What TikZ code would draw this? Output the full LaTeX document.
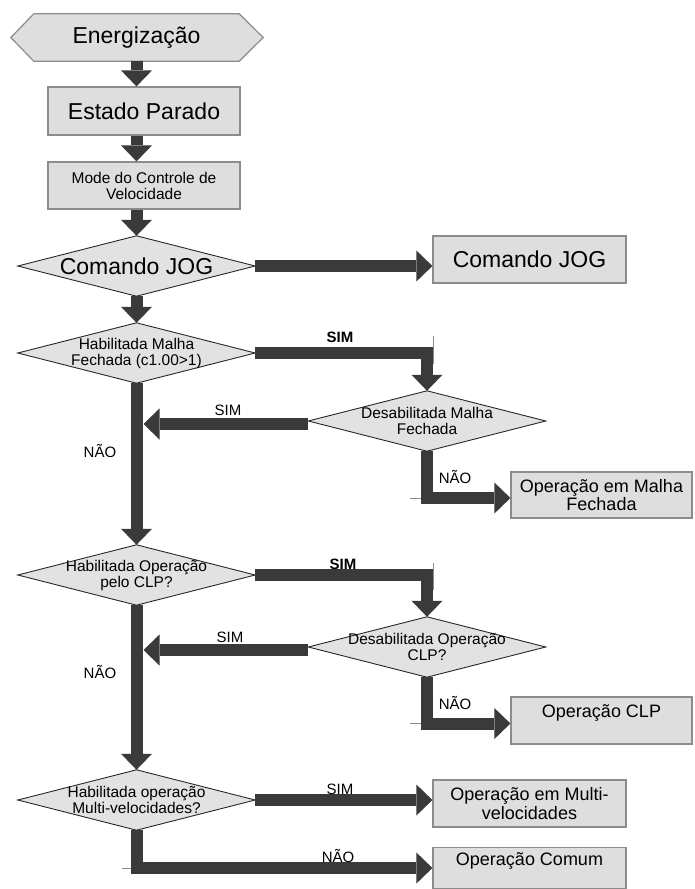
\documentclass[tikz,border=0pt]{standalone}
\usepackage{fontspec}
\setmainfont{Liberation Sans}
\usetikzlibrary{arrows.meta,calc}
\pgfdeclarelayer{background}
\pgfsetlayers{background,main}
\definecolor{arrowc}{RGB}{58,58,58}
\definecolor{boxfill}{RGB}{222,222,222}
\definecolor{boxline}{RGB}{140,140,140}
\definecolor{diafill}{RGB}{226,226,226}
\definecolor{dialine}{RGB}{40,40,40}
\newcommand{\myBig}{\fontsize{23}{26}\selectfont}
\newcommand{\myMed}{\fontsize{18}{18.5}\selectfont}
\newcommand{\mySmall}{\fontsize{15.5}{16}\selectfont}
\newcommand{\myLbl}{\fontsize{15}{17}\selectfont}
\tikzset{
  box/.style={draw=boxline, fill=boxfill, line width=1.2pt, inner sep=0pt,
    minimum width=192pt, minimum height=47pt, align=center},
  dia/.style={inner sep=0pt, minimum width=237pt, minimum height=60pt,
    align=center, font=\mySmall},
  diaf/.style={draw=dialine, fill=diafill, line width=0.9pt, line join=miter},
  hexf/.style={draw=boxline, fill=boxfill, line width=1.2pt},
  flow/.style={draw=arrowc, line width=12pt, line join=miter,
    -{Triangle[width=31pt,length=16pt,line width=0pt]}},
  tickl/.style={draw=boxline, line width=0.8pt},
  lbl/.style={font=\myLbl, inner sep=0pt}
}
\begin{document}
\begin{tikzpicture}[x=1pt,y=-1pt]
\useasboundingbox (0,0) rectangle (694,889);

% nodes
\node[inner sep=0pt, minimum width=205pt, minimum height=47pt, font=\myBig] (ener) at (136.5,37.5) {Energização};
\node[box, font=\myBig, minimum height=48pt] (parado) at (144,111) {Estado Parado};
\node[box, font=\mySmall] (mode) at (144,185.5) {Mode do Controle de\\Velocidade};
\node[dia, font=\myBig] (jog) at (136.5,266) {Comando JOG};
\node[box, font=\myBig, minimum width=193pt] (jogbox) at (529.5,259.5) {Comando JOG};
\node[dia] (hm) at (136.5,353) {Habilitada Malha\\Fechada (c1.00>1)};
\node[dia] (dm) at (427,421) {Desabilitada Malha\\Fechada};
\node[box, font=\myMed, minimum width=181pt, minimum height=46pt] (omf) at (601.5,495) {Operação em Malha\\Fechada};
\node[dia] (ho) at (136.5,575) {Habilitada Operação\\pelo CLP?};
\node[dia] (do) at (427,647) {Desabilitada Operação\\CLP?};
\node[box, font=\myMed, minimum width=181pt] (oclp) at (601.5,720.5) {Operação CLP\\\mbox{}};
\node[dia] (hmv) at (136.5,800) {Habilitada operação\\Multi-velocidades?};
\node[box, font=\myMed, minimum width=193pt] (omv) at (529.5,803.5) {Operação em Multi-\\velocidades};
\node[box, font=\myMed, minimum width=193pt, minimum height=41pt] (ocom) at (529.5,868) {Operação Comum\\\mbox{}};

% shapes behind the texts
\begin{pgfonlayer}{background}
\fill[white] (0,0) rectangle (694,889);
\draw[hexf] (ener.north west) -- (ener.north east) -- ($(ener.east)+(24,0)$)
  -- (ener.south east) -- (ener.south west) -- ($(ener.west)+(-23,0)$) -- cycle;
\foreach \n in {jog,hm,dm,ho,do,hmv}
  \draw[diaf] (\n.north) -- (\n.east) -- (\n.south) -- (\n.west) -- cycle;
\end{pgfonlayer}

% connectors
\draw[flow] (ener.south) -- (ener.south |- parado.north);
\draw[flow] (ener.south |- parado.south) -- (ener.south |- mode.north);
\draw[flow] (ener.south |- mode.south) -- (jog.north);
\draw[flow] (jog.east) -- (jog.east -| jogbox.west);
\draw[flow] (jog.south) -- (hm.north);

\draw[flow] (hm.east) -- (hm.east -| dm.north) -- (dm.north);
\draw[tickl] ($(hm.east -| dm.north)+(6,-17)$) -- ++(0,28);
\draw[flow] ($(dm.west)+(0,3)$) -- ($(hm.south |- dm.west)+(7,3)$);
\draw[flow] (hm.south) -- (ho.north);
\draw[tickl] ($(dm.south |- omf.west)+(-17,3)$) -- ++(11,0);
\draw[flow] (dm.south) |- ($(omf.west)+(0,3)$);

\draw[flow] (ho.east) -- (ho.east -| do.north) -- (do.north);
\draw[tickl] ($(ho.east -| do.north)+(6,-12)$) -- ++(0,27);
\draw[flow] ($(do.west)+(0,3)$) -- ($(ho.south |- do.west)+(7,3)$);
\draw[flow] (ho.south) -- (hmv.north);
\draw[tickl] ($(do.south |- oclp.west)+(-17,3)$) -- ++(11,0);
\draw[flow] (do.south) |- ($(oclp.west)+(0,3)$);

\draw[flow] (hmv.east) -- (hmv.east -| omv.west);
\draw[tickl] ($(hmv.south |- ocom.west)+(-15,0)$) -- ++(10,0);
\draw[flow] (hmv.south) |- (ocom.west);

% labels
\node[lbl] (s1) at (340,337) {\bfseries SIM};
\node[lbl] (s2) at (228,410) {SIM};
\node[lbl] (n1) at (100,451) {NÃO};
\node[lbl] (n2) at (455,477) {NÃO};
\node[lbl] (s3) at (343,564) {\bfseries SIM};
\node[lbl] (s4) at (230,637) {SIM};
\node[lbl] (n3) at (100,672) {NÃO};
\node[lbl] (n4) at (455,703) {NÃO};
\node[lbl] (s5) at (340,789) {SIM};
\node[lbl] (n5) at (338,856) {NÃO};
\end{tikzpicture}
\end{document}
